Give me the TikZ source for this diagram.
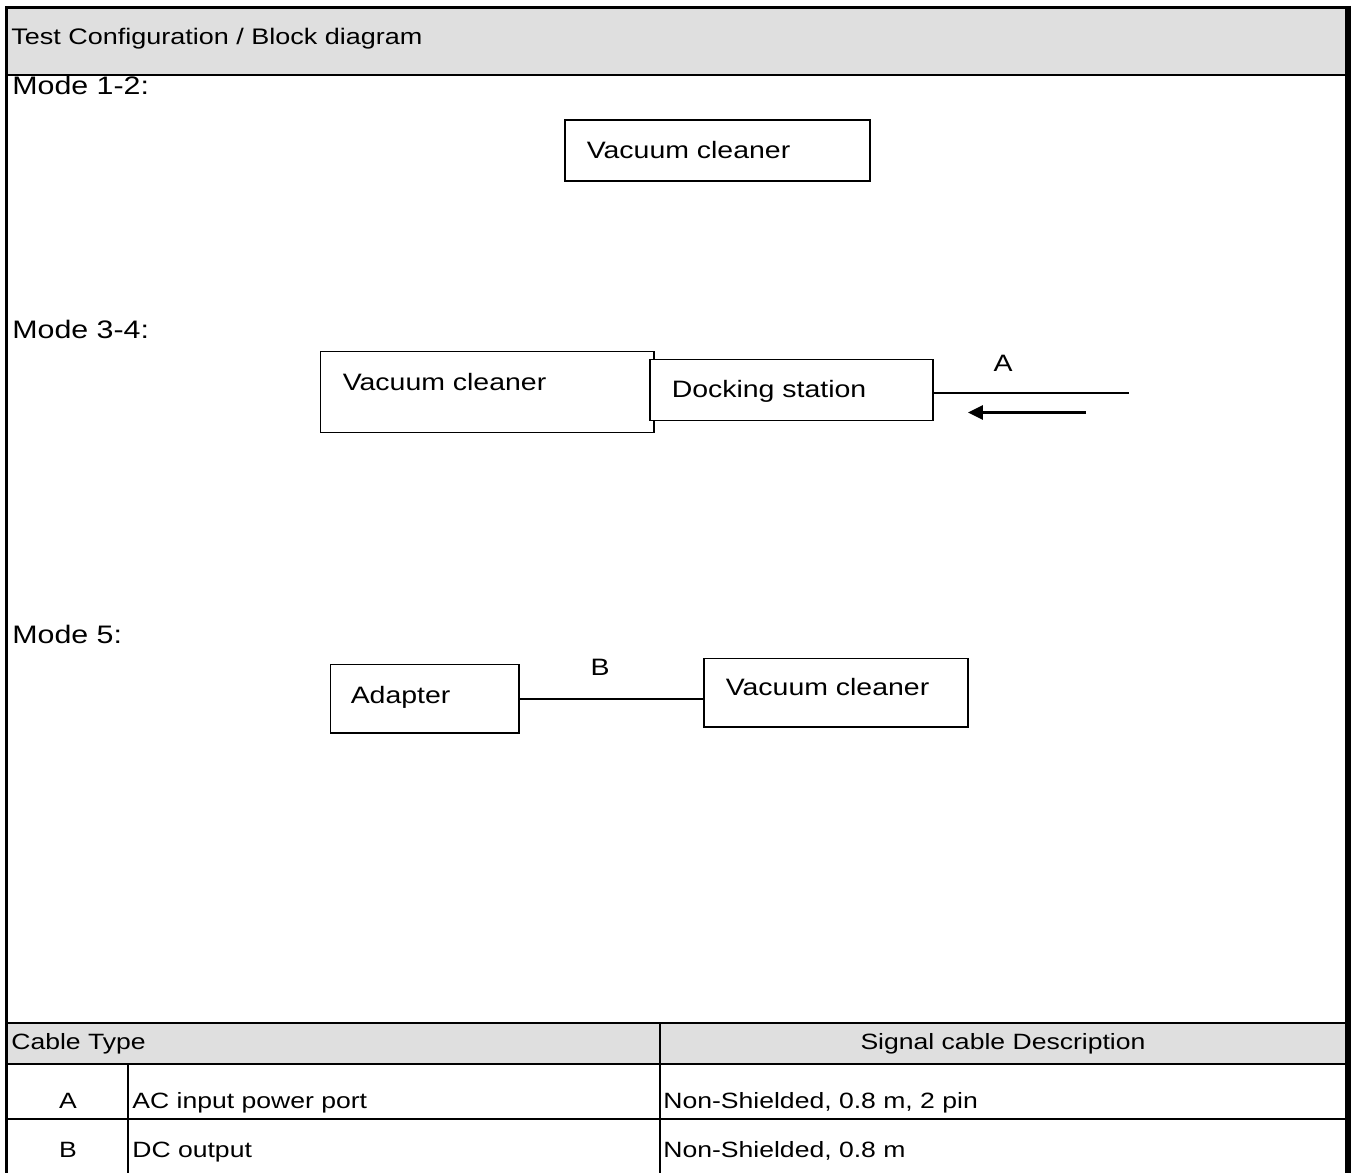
\documentclass[tikz,border=0pt]{standalone}
\usepackage{fontspec}
\setmainfont{Liberation Sans}[FakeStretch=1.2]
\usetikzlibrary{positioning,arrows.meta}

\definecolor{hdrgrey}{RGB}{223,223,223}
\def\px{0.02cm}

\begin{document}
\begin{tikzpicture}[x=\px,y=-\px]
    \tikzstyle{unit}=[draw=black,fill=white,line width=0.85pt,anchor=north west,align=left,inner xsep=22*\px,inner ysep=0pt,text height=9.5pt,font=\fontsize{13.5}{16}\selectfont]
    \tikzstyle{cable}=[draw=black,line width=0.85pt]
    \tikzstyle{tabtxt}=[anchor=base west,inner sep=0pt,font=\fontsize{12.6}{15}\selectfont]
    \tikzstyle{modetxt}=[anchor=base west,inner sep=0pt,font=\fontsize{14.4}{17}\selectfont]

    \useasboundingbox (0,0) rectangle (1351,1172);

    % grey header bands
    \fill[hdrgrey] (8,9) rectangle (1346,74);
    \fill[hdrgrey] (8,1024) rectangle (1346,1064);

    % frame and table rules
    \draw[line width=1.9pt] (6.5,1180) -- (6.5,7.6) -- (1348,7.6);
    \draw[line width=3.4pt] (1348,6) -- (1348,1180);
    \draw[line width=1.4pt] (6.5,75) -- (1348,75);
    \draw[line width=1.4pt] (6.5,1023) -- (1348,1023);
    \draw[line width=0.85pt] (6.5,1064) -- (1348,1064);
    \draw[line width=0.85pt] (6.5,1119) -- (1348,1119);
    \draw[line width=1pt] (660,1023) -- (660,1180);
    \draw[line width=0.85pt] (128,1064) -- (128,1180);

    \node[anchor=base west,inner sep=0pt,font=\fontsize{12.8}{15}\selectfont] (title) at (11,45) {Test Configuration / Block diagram};

    % Mode 1-2
    \node[modetxt] (mode12) at (12,95) {Mode 1-2:};
    \node[unit,text width=261*\px,minimum height=61*\px,text depth=1pt] (vc1) at (564,119.5) {Vacuum cleaner};

    % Mode 3-4
    \node[modetxt] (mode34) at (12,338) {Mode 3-4:};
    \node[unit,text width=289*\px,minimum height=81*\px,text depth=11.4pt] (vc2) at (320,351) {Vacuum cleaner};
    \node[unit,text width=239*\px,minimum height=61*\px,text depth=1pt] (dock) at (649,359) {Docking station};
    \coordinate (aend) at (1129,393);
    \draw[cable] (dock.east |- aend) -- (aend);
    \node[font=\fontsize{13.5}{16}\selectfont,inner sep=0pt] (labA) at (1003,363.5) {A};
    \coordinate (arrS) at (1086,412.5);
    \coordinate (arrE) at (968,412.5);
    \draw[line width=1.4pt,-{Triangle[length=8.5pt,width=8pt]}] (arrS) -- (arrE);

    % Mode 5
    \node[modetxt] (mode5) at (12,643) {Mode 5:};
    \node[unit,inner xsep=20*\px,text width=148*\px,minimum height=68*\px,text depth=3.8pt] (adapter) at (330,664) {Adapter};
    \node[unit,text width=220*\px,minimum height=68*\px,text depth=6.4pt] (vc3) at (703,658) {Vacuum cleaner};
    \draw[cable] (adapter.east) -- (adapter.east -| vc3.west);
    \node[font=\fontsize{13.5}{16}\selectfont,inner sep=0pt] (labB) at (600,667) {B};

    % cable table
    \node[tabtxt] (hcable) at (11,1049) {Cable Type};
    \node[anchor=base,inner sep=0pt,font=\fontsize{12.6}{15}\selectfont] (hdesc) at (1003,1049) {Signal cable Description};
    \node[anchor=base,inner sep=0pt,font=\fontsize{12.6}{15}\selectfont] (typeA) at (68,1108) {A};
    \node[tabtxt] (portA) at (132,1108) {AC input power port};
    \node[tabtxt] (descA) at (663,1108) {Non-Shielded, 0.8 m, 2 pin};
    \node[anchor=base,inner sep=0pt,font=\fontsize{12.6}{15}\selectfont] (typeB) at (68,1157) {B};
    \node[tabtxt] (portB) at (132,1157) {DC output};
    \node[tabtxt] (descB) at (663,1157) {Non-Shielded, 0.8 m};
\end{tikzpicture}
\end{document}
